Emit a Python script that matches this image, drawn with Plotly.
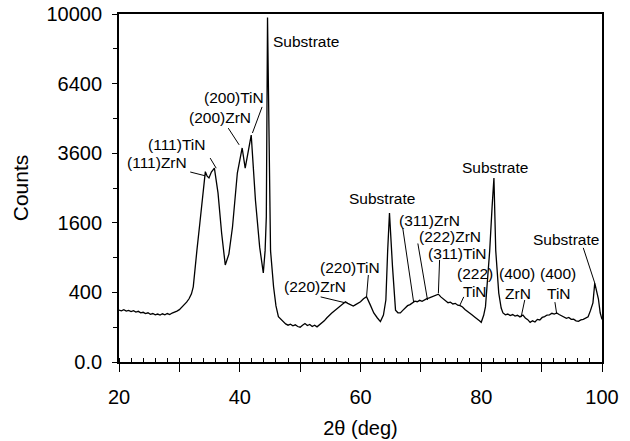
import numpy as np
import plotly.graph_objects as go

# ---------------- data ----------------
two_theta = [20.0, 20.4, 20.8, 21.2, 21.6, 22.0, 22.4, 22.8, 23.2, 23.6, 24.0, 24.4, 24.8, 25.2,
             25.6, 26.0, 26.4, 26.8, 27.2, 27.6, 28.0, 28.4, 28.8, 29.2, 29.6, 30.0, 30.4, 30.8,
             31.2, 31.6, 32.0, 32.3, 32.6, 32.9, 33.4, 33.8, 34.3, 34.6, 34.9, 35.3, 35.8, 36.4,
             37.0, 37.6, 38.2, 38.8, 39.6, 40.4, 40.9, 41.9, 42.6, 43.3, 43.9, 44.2, 44.4, 44.6,
             44.8, 45.1, 45.6, 46.0, 46.4, 46.8, 47.2, 47.6, 48.0, 48.4, 48.8, 49.2, 49.6, 50.0,
             50.4, 50.8, 51.2, 51.6, 52.0, 52.4, 52.8, 53.2, 53.6, 54.0, 54.4, 54.8, 55.2, 55.6,
             56.0, 56.4, 56.8, 57.2, 57.5, 57.9, 58.3, 58.8, 59.2, 59.6, 60.0, 60.5, 61.0, 61.6,
             62.2, 62.8, 63.3, 63.8, 64.2, 64.5, 64.8, 65.3, 65.8, 66.2, 66.6, 67.0, 67.4, 67.8,
             68.2, 68.6, 69.0, 69.4, 69.8, 70.2, 70.6, 71.0, 71.4, 71.8, 72.2, 72.6, 72.9, 73.3,
             73.7, 74.1, 74.5, 74.9, 75.3, 75.7, 76.1, 76.5, 76.9, 77.3, 77.7, 78.1, 78.5, 78.9,
             79.3, 79.7, 80.0, 80.4, 80.7, 81.0, 81.4, 81.8, 82.1, 82.4, 82.9, 83.3, 83.6, 84.0,
             84.4, 84.8, 85.2, 85.6, 86.0, 86.4, 86.9, 87.3, 87.7, 88.1, 88.5, 88.9, 89.3, 89.7,
             90.1, 90.5, 90.9, 91.3, 91.7, 92.1, 92.5, 92.9, 93.3, 93.7, 94.1, 94.5, 94.9, 95.3,
             95.7, 96.1, 96.5, 96.9, 97.3, 97.7, 98.1, 98.5, 98.8, 99.1, 99.4, 99.7, 100.0]
counts = [222, 216, 226, 214, 220, 210, 218, 206, 212, 200, 204, 194, 200, 188,
          194, 184, 190, 182, 192, 184, 194, 186, 198, 204, 214, 226, 246, 268,
          296, 330, 384, 467, 676, 1024, 1600, 2162, 2992, 2850, 2798, 2980, 3102, 2362,
          1369, 778, 961, 1505, 2948, 3782, 3102, 4251, 2162, 1089, 655, 1024, 1739, 9801,
          4900, 1024, 467, 260, 169, 150, 132, 120, 112, 118, 108, 114, 104, 100,
          112, 122, 110, 116, 104, 112, 102, 114, 124, 140, 160, 180, 196, 212,
          228, 246, 262, 280, 299, 284, 270, 259, 272, 288, 299, 330, 353, 272,
          199, 160, 135, 182, 317, 1024, 1832, 751, 222, 200, 199, 220, 240, 262,
          272, 290, 306, 300, 314, 304, 322, 332, 340, 350, 356, 370, 380, 350,
          330, 310, 290, 296, 278, 284, 266, 262, 250, 228, 210, 196, 182, 168,
          156, 140, 130, 180, 253, 500, 1024, 2000, 2798, 1024, 392, 240, 199, 184,
          190, 178, 186, 174, 180, 168, 182, 160, 148, 130, 140, 132, 150, 146,
          164, 170, 182, 184, 196, 190, 199, 186, 178, 170, 158, 164, 150, 152,
          140, 136, 146, 150, 160, 169, 220, 289, 515, 430, 330, 200, 150]

y_tick_counts = [0, 400, 1600, 3600, 6400, 10000]
y_tick_labels = ["0.0", "400", "1600", "3600", "6400", "10000"]
x_tick_vals = [20, 30, 40, 50, 60, 70, 80, 90, 100]
x_tick_labels = ["20", "", "40", "", "60", "", "80", "", "100"]

# peak labels: text, text centre (2theta, counts), leader line (from, to) or None
label_text = ["Substrate", "(111)ZrN", "(111)TiN", "(200)ZrN", "(200)TiN",
              "(220)ZrN", "(220)TiN", "Substrate", "(311)ZrN", "(222)ZrN", "(311)TiN",
              "(222)", "TiN", "Substrate", "(400)", "ZrN", "(400)", "TiN", "Substrate"]
label_x = [51.0, 26.3, 29.5, 36.8, 39.1, 52.4, 58.2, 63.5, 71.5, 74.9, 76.1,
           79.0, 79.0, 82.2, 85.9, 86.1, 92.7, 92.9, 94.0]
label_y = [8464, 3272, 3894, 4956, 5761, 467, 745, 2218, 1665, 1311, 981,
           640, 410, 3139, 640, 393, 640, 393, 1249]
line_x0 = [None, 31.8, 35.1, 38.1, 43.7, 53.4, 61.3, None, 67.0, 69.5, 73.1,
           77.1, None, None, None, 87.2, None, 92.2, 96.9]
line_y0 = [None, 2981, 3434, 4516, 5373, 350, 625, None, 1480, 1160, 860,
           350, None, None, None, 317, None, 296, 1076]
line_x1 = [None, 34.3, 36.1, 39.9, 42.1, 57.5, 61.0, None, 68.8, 71.1, 72.9,
           76.4, None, None, None, 86.6, None, 92.5, 98.8]
line_y1 = [None, 2862, 3102, 3894, 4330, 289, 350, None, 296, 317, 392,
           259, None, None, None, 166, None, 190, 515]

# ---------------- figure ----------------
s = np.sqrt  # square-root count axis
fig = go.Figure()
fig.add_trace(go.Scatter(x=two_theta, y=s(np.array(counts, dtype=float)), mode="lines",
                         line=dict(color="black", width=1.3), showlegend=False,
                         hoverinfo="skip"))

FONT = "Liberation Sans, Arial, sans-serif"
for i, t in enumerate(label_text):
    fig.add_annotation(x=label_x[i], y=float(s(label_y[i])), text=t, showarrow=False,
                       font=dict(family=FONT, size=15.5, color="black"),
                       xanchor="center", yanchor="middle", borderpad=0)
    if line_x0[i] is not None:
        fig.add_shape(type="line", x0=line_x0[i], y0=float(s(line_y0[i])),
                      x1=line_x1[i], y1=float(s(line_y1[i])),
                      line=dict(color="black", width=1))

fig.update_layout(
    width=630, height=441,
    margin=dict(l=119, r=28, t=14, b=79),
    paper_bgcolor="white", plot_bgcolor="white",
    font=dict(family=FONT, color="black"),
)
fig.update_xaxes(range=[20, 100], tickvals=x_tick_vals, ticktext=x_tick_labels,
                 ticks="outside", ticklen=8, tickwidth=1.2, tickcolor="black",
                 minor=dict(dtick=2, ticks="inside", ticklen=4, tickcolor="black"),
                 ticklabelstandoff=8, automargin=False,
                 showline=True, linecolor="black", linewidth=1.8, mirror=True,
                 showgrid=False, zeroline=False,
                 tickfont=dict(size=20), title=dict(text="2θ (deg)", font=dict(size=20), standoff=14))
fig.update_yaxes(range=[0, 100], tickvals=[float(v) for v in s(np.array(y_tick_counts, dtype=float))],
                 ticktext=y_tick_labels, ticklabeloverflow="allow",
                 ticks="outside", ticklen=5, tickwidth=1.2, tickcolor="black",
                 minor=dict(dtick=10, ticks="outside", ticklen=4, tickcolor="black"),
                 ticklabelstandoff=6, automargin=False,
                 showline=True, linecolor="black", linewidth=1.8, mirror=True,
                 showgrid=False, zeroline=False,
                 tickfont=dict(size=20), title=dict(text="Counts", font=dict(size=21), standoff=12))

# remove the default 8px page margin so the figure sits at the window's top-left corner
fig.write_html("out.html", config={"displayModeBar": False},
               post_script="document.body.style.margin='0';")
